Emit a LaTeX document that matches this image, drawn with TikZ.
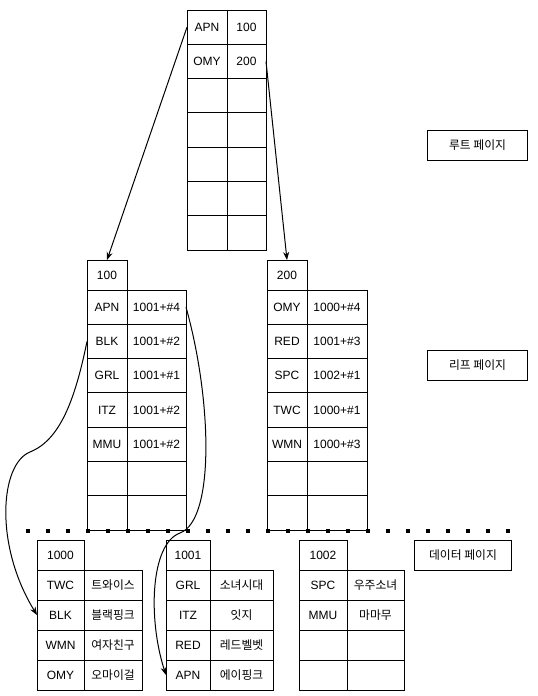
\documentclass[tikz,border=0pt]{standalone}
\usepackage{fontspec}
\setmainfont{Liberation Sans}
\newfontfamily\krfont{Noto Sans CJK KR}
\usetikzlibrary{arrows.meta}
\newcommand\kotxt[1]{{\krfont\fontsize{11.8pt}{13pt}\selectfont #1}}
\tikzset{
  cell/.style={draw, line width=1pt, minimum width=#1, inner sep=0pt, outer sep=0pt,
    anchor=north west, font=\fontsize{12pt}{14pt}\selectfont},
  tall/.style={minimum height=34.29pt},
  short/.style={minimum height=30pt},
  label/.style={draw, line width=1pt, minimum width=100pt, minimum height=30pt, inner sep=0pt,
    anchor=north west},
  conn/.style={line width=1pt, -{Stealth[length=8pt,width=6pt]}},
  sep/.style={line width=4pt, dash pattern=on 4pt off 16pt},
}
\begin{document}
\begin{tikzpicture}[x=1pt,y=-1pt]
\useasboundingbox (0,0) rectangle (538,696);
% root page
\foreach \k/\a/\b in {1/APN/100,2/OMY/200,3//,4//,5//,6//,7//}{
  \node[cell=40pt,tall] (ra\k) at (187,{10+34.29*(\k-1)}) {\a};
  \node[cell=39pt,tall] (rb\k) at (227,{10+34.29*(\k-1)}) {\b};
}
% leaf 100
\node[cell=40pt,short] (lh1) at (87,260) {100};
\foreach \k/\a/\b in {1/APN/1001+\#4,2/BLK/1001+\#2,3/GRL/1001+\#1,4/ITZ/1001+\#2,5/MMU/1001+\#2,6//,7//}{
  \node[cell=40pt,tall] (la\k) at (87,{290+34.29*(\k-1)}) {\a};
  \node[cell=59pt,tall] (lb\k) at (127,{290+34.29*(\k-1)}) {\b};
}
% leaf 200
\node[cell=40pt,short] (mh1) at (267,260) {200};
\foreach \k/\a/\b in {1/OMY/1000+\#4,2/RED/1001+\#3,3/SPC/1002+\#1,4/TWC/1000+\#1,5/WMN/1000+\#3,6//,7//}{
  \node[cell=40pt,tall] (ma\k) at (267,{290+34.29*(\k-1)}) {\a};
  \node[cell=60pt,tall] (mb\k) at (307,{290+34.29*(\k-1)}) {\b};
}
% data 1000
\node[cell=47pt,short] (dh0) at (37,540) {1000};
\foreach \k/\a/\b in {1/TWC/트와이스,2/BLK/블랙핑크,3/WMN/여자친구,4/OMY/오마이걸}{
  \node[cell=47pt,short] (da\k) at (37,{570+30*(\k-1)}) {\a};
  \node[cell=58pt,short] (db\k) at (84,{570+30*(\k-1)}) {\kotxt{\b}};
}
% data 1001
\node[cell=44pt,short] (eh0) at (166,540) {1001};
\foreach \k/\a/\b in {1/GRL/소녀시대,2/ITZ/잇지,3/RED/레드벨벳,4/APN/에이핑크}{
  \node[cell=44pt,short] (ea\k) at (166,{570+30*(\k-1)}) {\a};
  \node[cell=63pt,short] (eb\k) at (210,{570+30*(\k-1)}) {\kotxt{\b}};
}
% data 1002
\node[cell=48pt,short] (fh0) at (299,540) {1002};
\foreach \k/\a/\b in {1/SPC/우주소녀,2/MMU/마마무,3//,4//}{
  \node[cell=48pt,short] (fa\k) at (299,{570+30*(\k-1)}) {\a};
  \node[cell=57pt,short] (fb\k) at (347,{570+30*(\k-1)}) {\kotxt{\b}};
}
% labels
\node[label] (lroot) at (427,130) {\kotxt{루트 페이지}};
\node[label] (lleaf) at (427,350) {\kotxt{리프 페이지}};
\node[label,minimum width=97pt] (ldata) at (414,540) {\kotxt{데이터 페이지}};
% separator
\coordinate (sl) at (26,530.5);
\coordinate (sr) at (511,530.5);
\draw[sep] (sl) -- (sr);
% connectors
\draw[conn] (ra1.west) -- (lh1.north);
\draw[conn] (rb2.east) -- (mh1.north);
\draw[conn] (la2.west) .. controls (75,400) and (60,440) .. (30,452)
  .. controls (0,464) and (-6,545) .. (da2.west);
\draw[conn] (lb1.east) .. controls (212,400) and (215,520) .. (180,533)
  .. controls (150,544) and (148,620) .. (ea4.west);
\end{tikzpicture}
\end{document}
